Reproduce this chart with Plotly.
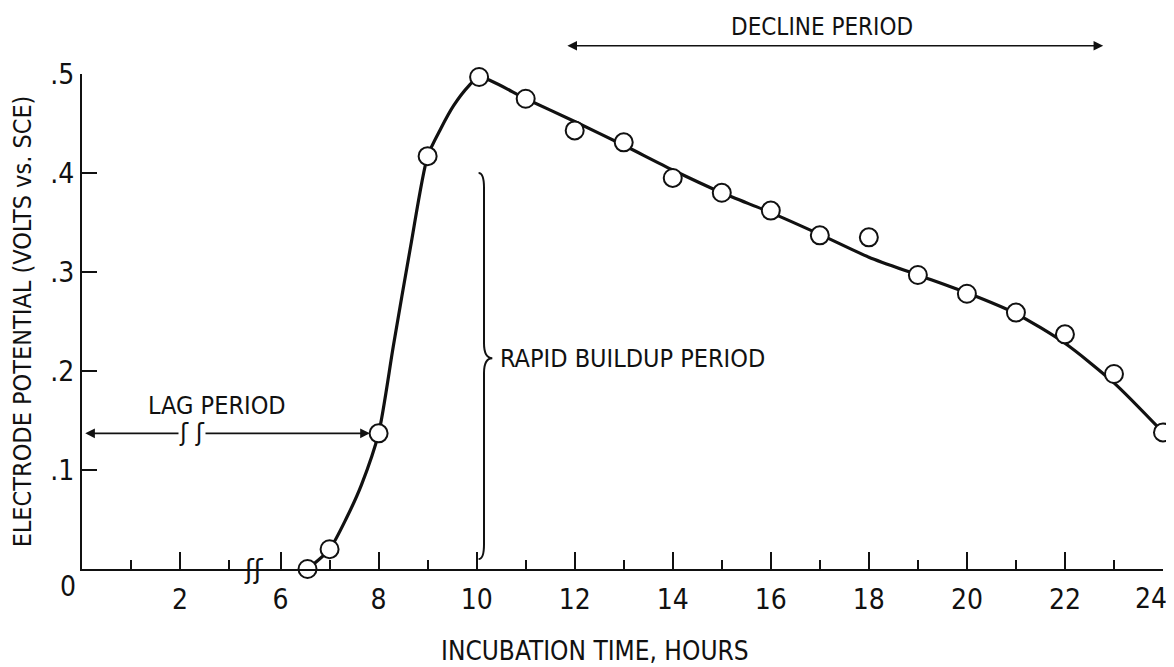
import plotly.graph_objects as go

# measured points (open circles)
hours = [6.55, 7.0, 8.0, 9.0, 10.05, 11, 12, 13, 14, 15, 16, 17, 18, 19, 20, 21, 22, 23, 24]
potential = [0.0, 0.02, 0.137, 0.417, 0.497, 0.475, 0.443, 0.431, 0.395, 0.380, 0.362,
             0.337, 0.335, 0.297, 0.278, 0.259, 0.237, 0.197, 0.138]

# hand-drawn smooth curve through the points
curve_hours = [6.55, 7.0, 7.35, 7.65, 8.0, 8.3, 8.65, 9.0, 9.27, 9.53, 9.84, 10.05,
               11, 12, 13, 14, 15, 16, 17, 18, 19, 20, 21, 22, 23, 24]
curve_potential = [0.0, 0.02, 0.052, 0.085, 0.137, 0.225, 0.325, 0.417, 0.445, 0.468,
                   0.488, 0.497, 0.475, 0.452, 0.428, 0.403, 0.38, 0.36, 0.338, 0.315,
                   0.297, 0.279, 0.258, 0.228, 0.188, 0.138]

left_major = [2]
left_minor = [1, 3]
right_major = [6, 8, 10, 12, 14, 16, 18, 20, 22]
right_minor = [7, 9, 11, 13, 15, 17, 19, 21, 23]
end_tick = [24]  # last label sits a little left of its tick, so it gets its own axis
y_ticks = [0.1, 0.2, 0.3, 0.4, 0.5]
y_labels = [".1", ".2", ".3", ".4", ".5"]

FONT = "Liberation Sans Narrow, DejaVu Sans Condensed, DejaVu Sans, sans-serif"
INK = "#111111"

left_span = 3.5
right_range = [5.45, 24]
split = left_span / (left_span + right_range[1] - right_range[0])

fig = go.Figure()

# Curve
fig.add_trace(go.Scatter(
    x=curve_hours, y=curve_potential, xaxis="x2", yaxis="y",
    mode="lines", line=dict(color=INK, width=3.2, shape="spline", smoothing=0.7),
    cliponaxis=False, hoverinfo="skip", showlegend=False,
))

# Data points
fig.add_trace(go.Scatter(
    x=hours, y=potential, xaxis="x2", yaxis="y",
    mode="markers",
    marker=dict(size=18, color="white", line=dict(color=INK, width=2)),
    cliponaxis=False, showlegend=False,
))

# invisible trace so the end-tick axis gets drawn
fig.add_trace(go.Scatter(
    x=hours[-1:], y=potential[-1:], xaxis="x3", yaxis="y",
    mode="markers", marker=dict(opacity=0), hoverinfo="skip", showlegend=False,
))

axis_common = dict(
    showgrid=False, zeroline=False,
    ticks="inside", ticklen=17, tickwidth=2, tickcolor=INK, automargin=False,
    tickfont=dict(family=FONT, size=28, color=INK),
    ticklabeloverflow="allow",
)

# page body adds an 8px offset, so the figure is 8px smaller than the window
fig.update_layout(
    width=1166, height=659,
    margin=dict(l=74, r=11, t=66, b=98),
    plot_bgcolor="white", paper_bgcolor="white",
    xaxis=dict(
        domain=[0, split], range=[0, left_span], anchor="y",
        showline=True, linecolor=INK, linewidth=2, ticklabelstandoff=4,
        tickvals=left_major, ticktext=[str(v) for v in left_major],
        minor=dict(tickvals=left_minor, ticks="inside", ticklen=9, tickwidth=2, tickcolor=INK),
        **axis_common,
    ),
    xaxis2=dict(
        domain=[split, 1], range=right_range, anchor="y",
        showline=True, linecolor=INK, linewidth=2, ticklabelstandoff=4,
        tickvals=right_major, ticktext=[str(v) for v in right_major],
        minor=dict(tickvals=right_minor, ticks="inside", ticklen=9, tickwidth=2, tickcolor=INK),
        **axis_common,
    ),
    xaxis3=dict(
        overlaying="x2", range=right_range, anchor="y", side="bottom",
        showline=False, tickvals=end_tick, ticktext=[str(v) for v in end_tick],
        ticklabelshift=-12, ticklabelstandoff=10,
        **axis_common,
    ),
    yaxis=dict(
        range=[0, 0.5], anchor="x", automargin=False,
        showline=True, linecolor=INK, linewidth=2, showgrid=False, zeroline=False,
        ticks="inside", ticklen=15, tickwidth=2, tickcolor=INK,
        tickvals=y_ticks, ticktext=y_labels, ticklabelstandoff=0,
        tickfont=dict(family=FONT, size=28, color=INK),
        title=dict(text="ELECTRODE POTENTIAL (VOLTS vs. SCE)", standoff=14,
                   font=dict(family=FONT, size=25, color=INK)),
    ),
)

ann_font = dict(family=FONT, size=25, color=INK)


def label(text, x, y, xref, yref, font, **kw):
    fig.add_annotation(x=x, y=y, xref=xref, yref=yref, text=text, showarrow=False,
                       xanchor=kw.pop("xanchor", "center"), yanchor="middle",
                       font=font, **kw)


# Axis "0", x title and axis break
label("0", -0.013, -0.036, "paper", "paper", dict(family=FONT, size=28, color=INK))
label("INCUBATION TIME, HOURS", 0.475, -0.166, "paper", "paper",
      dict(family=FONT, size=26, color=INK))
label("ʃʃ", split, 0, "paper", "paper", dict(family="DejaVu Sans", size=26, color=INK))

# Lag period
fig.add_annotation(x=7.82, y=0.137, xref="x2", yref="y", ax=-286, ay=0,
                   axref="pixel", ayref="pixel", text="", showarrow=True,
                   arrowside="end+start", arrowhead=2, arrowsize=1.2, arrowwidth=1.6,
                   arrowcolor=INK)
label("ʃ ʃ", 2.25, 0.137, "x", "y", dict(family="DejaVu Sans", size=24, color=INK),
      bgcolor="white", borderpad=0)
label("LAG PERIOD", 2.76, 0.165, "x", "y", ann_font)

# Rapid buildup brace
fig.add_shape(type="path", xref="x2", yref="y",
              path="M 10.04,0.400 Q 10.15,0.400 10.15,0.385 L 10.15,0.228 "
                   "Q 10.15,0.213 10.32,0.213 Q 10.15,0.213 10.15,0.198 "
                   "L 10.15,0.025 Q 10.15,0.010 10.04,0.010",
              line=dict(color=INK, width=2))
label("RAPID BUILDUP PERIOD", 10.43, 0.213, "x2", "y", ann_font, xanchor="left")

# Decline period
fig.add_annotation(x=22.78, y=1.057, xref="x2", yref="paper", ax=11.82, ay=0,
                   axref="x2", ayref="pixel", text="", showarrow=True,
                   arrowside="end+start", arrowhead=2, arrowsize=1.2, arrowwidth=1.6,
                   arrowcolor=INK)
label("DECLINE PERIOD", 17.04, 1.095, "x2", "paper", dict(family=FONT, size=24, color=INK))

fig.write_html("out.html")
